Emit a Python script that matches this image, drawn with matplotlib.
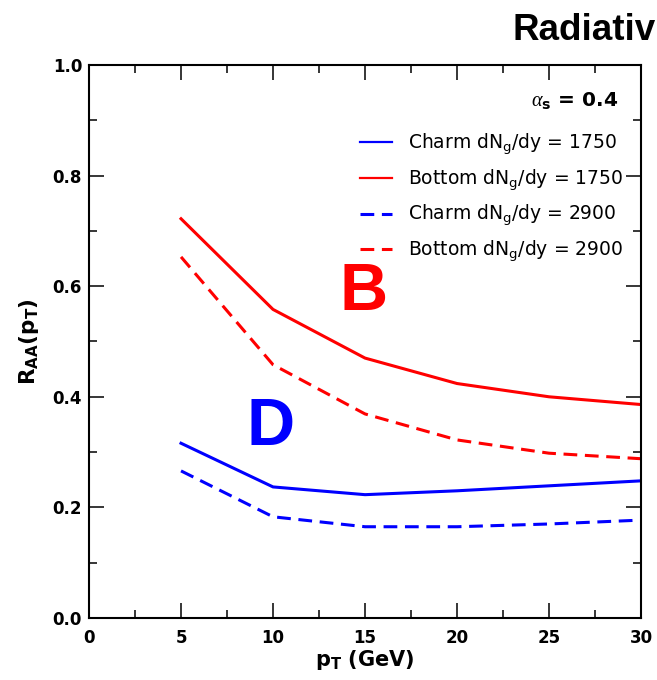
import numpy as np
import matplotlib
matplotlib.use('Agg')
from matplotlib import pyplot as plt
from matplotlib.ticker import MultipleLocator, FormatStrFormatter

plt.rcParams['font.family'] = ['DejaVu Sans']
plt.rcParams['mathtext.fontset'] = 'custom'
plt.rcParams['mathtext.rm'] = 'DejaVu Sans'
plt.rcParams['mathtext.it'] = 'Liberation Serif:italic'
plt.rcParams['mathtext.bf'] = 'DejaVu Sans:bold'
plt.rcParams['mathtext.default'] = 'regular'

# values
pt = [5, 10, 15, 20, 25, 30]
charm_1750 = [0.316, 0.237, 0.223, 0.230, 0.239, 0.248]
bottom_1750 = [0.722, 0.558, 0.470, 0.424, 0.400, 0.386]
charm_2900 = [0.266, 0.183, 0.165, 0.165, 0.170, 0.177]
bottom_2900 = [0.653, 0.458, 0.369, 0.322, 0.298, 0.288]

labels = ['Charm dN$_g$/dy = 1750', 'Bottom dN$_g$/dy = 1750',
          'Charm dN$_g$/dy = 2900', 'Bottom dN$_g$/dy = 2900']

fig = plt.figure(figsize=(6.57, 6.80), dpi=100)
ax = fig.add_axes([0.1355, 0.0912, 0.8402, 0.8132])

lw = 2.2
dash = (0, (4.5, 2.5))
ax.plot(pt, charm_1750, color='#0000ff', lw=lw, label=labels[0])
ax.plot(pt, bottom_1750, color='#ff0000', lw=lw, label=labels[1])
ax.plot(pt, charm_2900, color='#0000ff', lw=lw, ls=dash, label=labels[2])
ax.plot(pt, bottom_2900, color='#ff0000', lw=lw, ls=dash, label=labels[3])

ax.set_xlim(0, 30)
ax.set_ylim(0, 1.0)
ax.xaxis.set_major_locator(MultipleLocator(5))
ax.xaxis.set_minor_locator(MultipleLocator(2.5))
ax.yaxis.set_major_locator(MultipleLocator(0.2))
ax.yaxis.set_minor_locator(MultipleLocator(0.1))
ax.yaxis.set_major_formatter(FormatStrFormatter('%.1f'))
ax.tick_params(which='both', direction='in', top=True, right=True, width=1.1)
ax.tick_params(which='major', length=11, labelsize=12)
ax.tick_params(which='minor', length=6)
ax.tick_params(axis='x', pad=8)
ax.tick_params(axis='y', pad=5)
for lab in ax.get_xticklabels() + ax.get_yticklabels():
    lab.set_fontweight('bold')
for s in ax.spines.values():
    s.set_linewidth(1.5)

ax.set_xlabel(r'$\mathbf{p_T}$ (GeV)', fontsize=15, fontweight='bold', labelpad=1)
ax.set_ylabel(r'$\mathbf{R_{AA}(p_T)}$', fontsize=15.5, fontweight='bold', labelpad=8)

leg = ax.legend(loc='upper right', bbox_to_anchor=(0.967, 0.88), frameon=False,
                fontsize=13.5, handlelength=1.7, handletextpad=0.85,
                labelspacing=0.55, borderaxespad=0, borderpad=0)
for ln in leg.get_lines()[:2]:
    ln.set_linewidth(1.6)

ax.text(0.958, 0.935, r'$\mathit{\alpha}_{\mathbf{s}}$ = 0.4', transform=ax.transAxes,
        ha='right', va='center', fontsize=14.5, fontweight='bold')

ax.text(14.9, 0.587, 'B', color='#ff0000', fontsize=48, fontweight='bold',
        family='Liberation Sans', ha='center', va='center')
ax.text(9.85, 0.3435, 'D', color='#0000ff', fontsize=48, fontweight='bold',
        family='Liberation Sans', ha='center', va='center')

# the reference crops this title at the right edge of the figure
fig.text(656 / 657, 1 - 40 / 680, 'Radiativ', fontsize=26.5, fontweight='bold',
         family='Liberation Sans', ha='right', va='baseline')

fig.savefig('out.png', dpi=100)
